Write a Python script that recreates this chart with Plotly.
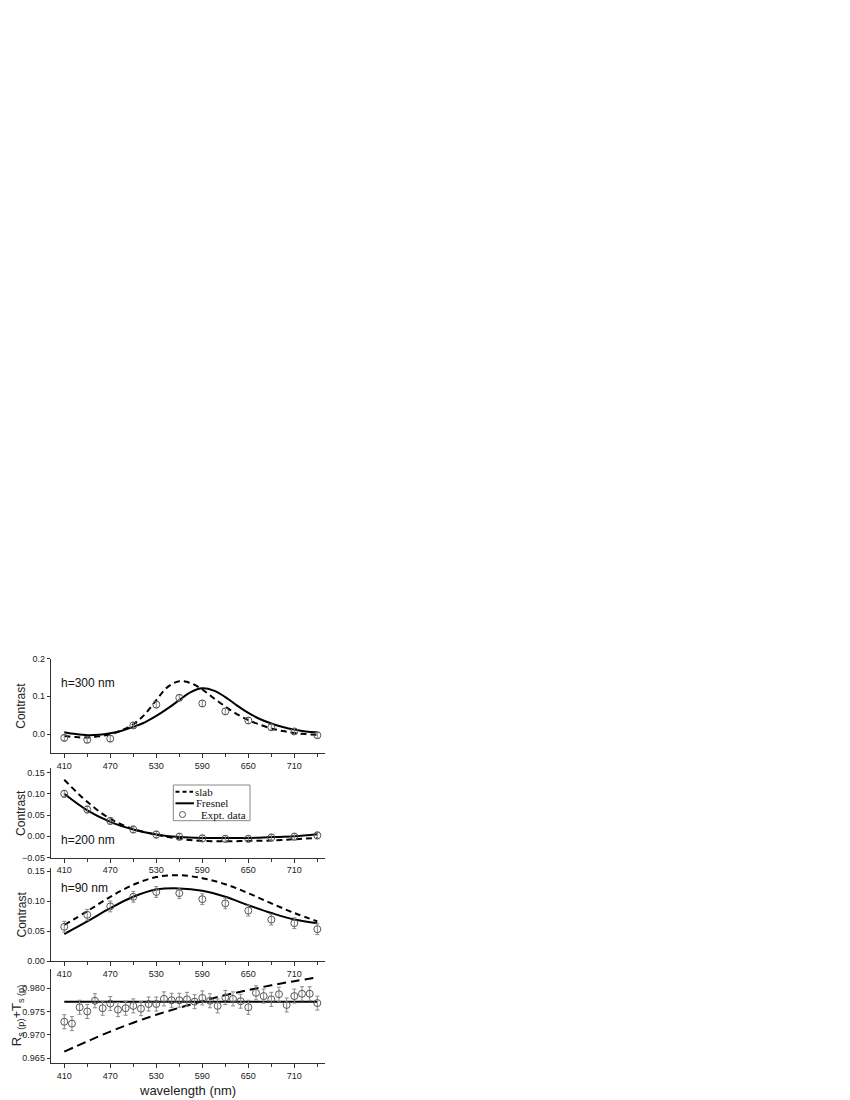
import plotly.graph_objects as go

# ---------------- data ----------------
# Panel 1: h=300 nm
p1_curve_x = [410, 425, 440, 455, 470, 485, 500, 515, 530, 545, 560, 575, 590, 605, 620, 635, 650, 665, 680, 695, 710, 725, 740]
p1_slab = [-0.005, -0.008, -0.009, -0.006, 0.000, 0.010, 0.026, 0.052, 0.090, 0.125, 0.140, 0.135, 0.118, 0.095, 0.073, 0.053, 0.037, 0.025, 0.015, 0.008, 0.003, 0.000, -0.002]
p1_fresnel = [0.005, 0.000, -0.003, -0.002, 0.002, 0.009, 0.019, 0.031, 0.048, 0.068, 0.090, 0.111, 0.121, 0.115, 0.098, 0.076, 0.056, 0.040, 0.028, 0.019, 0.012, 0.007, 0.005]
p1_data_x = [410, 440, 470, 500, 530, 560, 590, 620, 650, 680, 710, 740]
p1_data = [-0.010, -0.015, -0.012, 0.023, 0.078, 0.096, 0.081, 0.060, 0.036, 0.018, 0.007, -0.003]
p1_err = [0.008, 0.008, 0.008, 0.008, 0.008, 0.008, 0.008, 0.008, 0.008, 0.008, 0.008, 0.008]

# Panel 2: h=200 nm
p2_curve_x = [410, 440, 470, 500, 530, 560, 590, 620, 650, 680, 710, 740]
p2_slab = [0.133, 0.081, 0.041, 0.017, 0.004, -0.006, -0.011, -0.012, -0.011, -0.010, -0.007, -0.004]
p2_fresnel = [0.100, 0.061, 0.034, 0.016, 0.004, -0.002, -0.004, -0.004, -0.004, -0.002, 0.000, 0.005]
p2_data_x = [410, 440, 470, 500, 530, 560, 590, 620, 650, 680, 710, 740]
p2_data = [0.100, 0.063, 0.036, 0.016, 0.004, -0.001, -0.005, -0.006, -0.006, -0.003, -0.001, 0.002]
p2_err = [0.008, 0.008, 0.008, 0.008, 0.008, 0.008, 0.008, 0.008, 0.008, 0.008, 0.008, 0.008]

# Panel 3: h=90 nm
p3_curve_x = [410, 440, 470, 500, 530, 560, 590, 620, 650, 680, 710, 740]
p3_slab = [0.060, 0.083, 0.107, 0.127, 0.140, 0.143, 0.138, 0.128, 0.113, 0.096, 0.080, 0.066]
p3_fresnel = [0.045, 0.066, 0.088, 0.107, 0.119, 0.121, 0.117, 0.107, 0.093, 0.080, 0.069, 0.063]
p3_data_x = [410, 440, 470, 500, 530, 560, 590, 620, 650, 680, 710, 740]
p3_data = [0.057, 0.077, 0.091, 0.107, 0.115, 0.113, 0.103, 0.096, 0.084, 0.069, 0.063, 0.053]
p3_err = [0.009, 0.009, 0.009, 0.009, 0.009, 0.009, 0.009, 0.009, 0.009, 0.009, 0.009, 0.009]

# Panel 4: R+T
p4_curve_x = [410, 440, 470, 500, 530, 560, 590, 620, 650, 680, 710, 740]
p4_slab = [0.9664, 0.9686, 0.9707, 0.9726, 0.9743, 0.9758, 0.9772, 0.9785, 0.9796, 0.9806, 0.9815, 0.9823]
p4_fresnel = [0.9771, 0.9771, 0.9771, 0.9771, 0.9771, 0.9771, 0.9771, 0.9771, 0.9771, 0.9771, 0.9771, 0.9771]
p4_data_x = [410, 420, 430, 440, 450, 460, 470, 480, 490, 500, 510, 520, 530, 540, 550, 560, 570,
             580, 590, 600, 610, 620, 630, 640, 650, 660, 670, 680, 690, 700, 710, 720, 730, 740]
p4_data = [0.9728, 0.9724, 0.9759, 0.9750, 0.9773, 0.9757, 0.9767, 0.9754, 0.9757, 0.9762, 0.9756, 0.9766,
           0.9766, 0.9777, 0.9774, 0.9774, 0.9776, 0.9771, 0.9779, 0.9773, 0.9762, 0.9780, 0.9777, 0.9772,
           0.9759, 0.9790, 0.9783, 0.9776, 0.9787, 0.9764, 0.9783, 0.9788, 0.9788, 0.9768]
p4_err = [0.0015] * 34

panel_labels = ["h=300 nm", "h=200 nm", "h=90 nm", ""]
y_titles = ["Contrast", "Contrast", "Contrast", "R<sub>s (p)</sub>+T<sub>s (p)</sub>"]
x_title = "wavelength (nm)"
legend_names = ["slab", "Fresnel", "Expt. data"]
x_tickvals = [410, 470, 530, 590, 650, 710]
x_minor_tickvals = [440, 500, 560, 620, 680, 740]

# ---------------- figure ----------------
W, H = 850, 1100
OFF = 8  # page body margin offset

def fx(px):
    return (px - OFF) / W

def fy(py):
    return 1 - (py - OFF) / H

AX_L, AX_R = 50.7, 325.0
panels = [
    dict(top=658.5, bot=753.0, rng=[-0.05, 0.2], dtick=0.1, fmt=".1f"),
    dict(top=768.3, bot=857.5, rng=[-0.05, 0.16], dtick=0.05, fmt=".2f"),
    dict(top=868.0, bot=961.0, rng=[0.0, 0.155], dtick=0.05, fmt=".2f"),
    dict(top=969.0, bot=1063.3, rng=[0.9639, 0.9841], dtick=0.005, fmt=".3f"),
]

series = [
    (p1_curve_x, p1_slab, p1_fresnel, p1_data_x, p1_data, p1_err),
    (p2_curve_x, p2_slab, p2_fresnel, p2_data_x, p2_data, p2_err),
    (p3_curve_x, p3_slab, p3_fresnel, p3_data_x, p3_data, p3_err),
    (p4_curve_x, p4_slab, p4_fresnel, p4_data_x, p4_data, p4_err),
]

fig = go.Figure()
font_fam = "Liberation Sans, Arial, sans-serif"
serif = "Liberation Serif, Times New Roman, serif"

for i, (p, s) in enumerate(zip(panels, series)):
    n = i + 1
    xa = "x" if n == 1 else f"x{n}"
    ya = "y" if n == 1 else f"y{n}"
    cx, slab, fres, dx, dv, de = s
    dash = "9px,5px" if n == 4 else "6px,4px"
    fig.add_trace(go.Scatter(x=cx, y=slab, mode="lines",
                             line=dict(color="black", width=2, dash=dash, shape="spline"),
                             name=legend_names[0], showlegend=False, xaxis=xa, yaxis=ya))
    fig.add_trace(go.Scatter(x=cx, y=fres, mode="lines", line=dict(color="black", width=2, shape="spline"),
                             name=legend_names[1], showlegend=False, xaxis=xa, yaxis=ya))
    fig.add_trace(go.Scatter(x=dx, y=dv, mode="markers",
                             marker=dict(symbol="circle-open", size=7, color="#555555",
                                         line=dict(width=1, color="#555555")),
                             error_y=dict(type="data", array=de, visible=True, color="#888888",
                                          thickness=1, width=2),
                             name=legend_names[2], showlegend=False, xaxis=xa, yaxis=ya))

    xkey = "xaxis" if n == 1 else f"xaxis{n}"
    ykey = "yaxis" if n == 1 else f"yaxis{n}"
    fig.layout[xkey] = dict(
        domain=[fx(AX_L), fx(AX_R)], range=[392.3, 750], anchor=ya,
        tickvals=x_tickvals, ticks="outside", ticklen=4, tickwidth=1, tickcolor="#333",
        showline=True, linecolor="#333", linewidth=1, showgrid=False, zeroline=False,
        tickfont=dict(family=font_fam, size=9, color="#222"),
        minor=dict(tickvals=x_minor_tickvals, ticks="outside", ticklen=3, tickcolor="#333"),
        automargin=False,
    )
    fig.layout[ykey] = dict(
        domain=[fy(p["bot"]), fy(p["top"])], range=p["rng"], anchor=xa,
        dtick=p["dtick"], tick0=0, tickformat=p["fmt"], ticks="outside", ticklen=3, tickcolor="#333",
        showline=True, linecolor="#333", linewidth=1, showgrid=False, zeroline=False,
        tickfont=dict(family=font_fam, size=9, color="#222"),
        automargin=False,
    )
    # y-axis title as rotated annotation
    tx = 21 if n < 4 else 17
    fig.add_annotation(x=fx(tx), y=fy((p["top"] + p["bot"]) / 2), xref="paper", yref="paper",
                       text=y_titles[i], textangle=-90, showarrow=False,
                       xanchor="center", yanchor="middle",
                       font=dict(family=font_fam, size=12 if n < 4 else 13, color="#222"))
    if panel_labels[i]:
        label_y = {0: 683, 1: 840, 2: 888}[i]
        fig.add_annotation(x=fx(59), y=fy(label_y), xref="paper", yref="paper", text=panel_labels[i],
                           showarrow=False, xanchor="left", yanchor="middle",
                           font=dict(family=font_fam, size=12, color="#111"))

fig.add_annotation(x=fx((AX_L + AX_R) / 2), y=fy(1090), xref="paper", yref="paper", text=x_title,
                   showarrow=False, xanchor="center", yanchor="middle",
                   font=dict(family=font_fam, size=13, color="#222"))

# ---- legend box (drawn in panel 2) ----
LB = dict(x0=173.3, x1=250.0, y0=785.0, y1=820.7)
fig.add_shape(type="rect", xref="paper", yref="paper",
              x0=fx(LB["x0"]), x1=fx(LB["x1"]), y0=fy(LB["y1"]), y1=fy(LB["y0"]),
              line=dict(color="#888888", width=1), fillcolor="white", layer="above")
row_y = [791.7, 803.3, 814.5]
fig.add_shape(type="line", xref="paper", yref="paper", x0=fx(175.5), x1=fx(193), y0=fy(row_y[0]), y1=fy(row_y[0]),
              line=dict(color="black", width=2, dash="4px,3px"), layer="above")
fig.add_shape(type="line", xref="paper", yref="paper", x0=fx(175.5), x1=fx(194), y0=fy(row_y[1]), y1=fy(row_y[1]),
              line=dict(color="black", width=2), layer="above")
fig.add_shape(type="circle", xref="paper", yref="paper", x0=fx(179.5), x1=fx(185.5),
              y0=fy(row_y[2] + 3), y1=fy(row_y[2] - 3),
              line=dict(color="#555555", width=1), layer="above")
for name, ry, tx in zip(legend_names, row_y, [193.5, 195, 199.5]):
    fig.add_annotation(x=fx(tx), y=fy(ry), xref="paper", yref="paper", text=name, showarrow=False,
                       xanchor="left", yanchor="middle", borderpad=0,
                       font=dict(family=serif, size=11, color="#111"))

fig.update_layout(
    width=W, height=H, margin=dict(l=0, r=0, t=0, b=0),
    paper_bgcolor="white", plot_bgcolor="white", showlegend=False,
)

fig.write_html("out.html")
